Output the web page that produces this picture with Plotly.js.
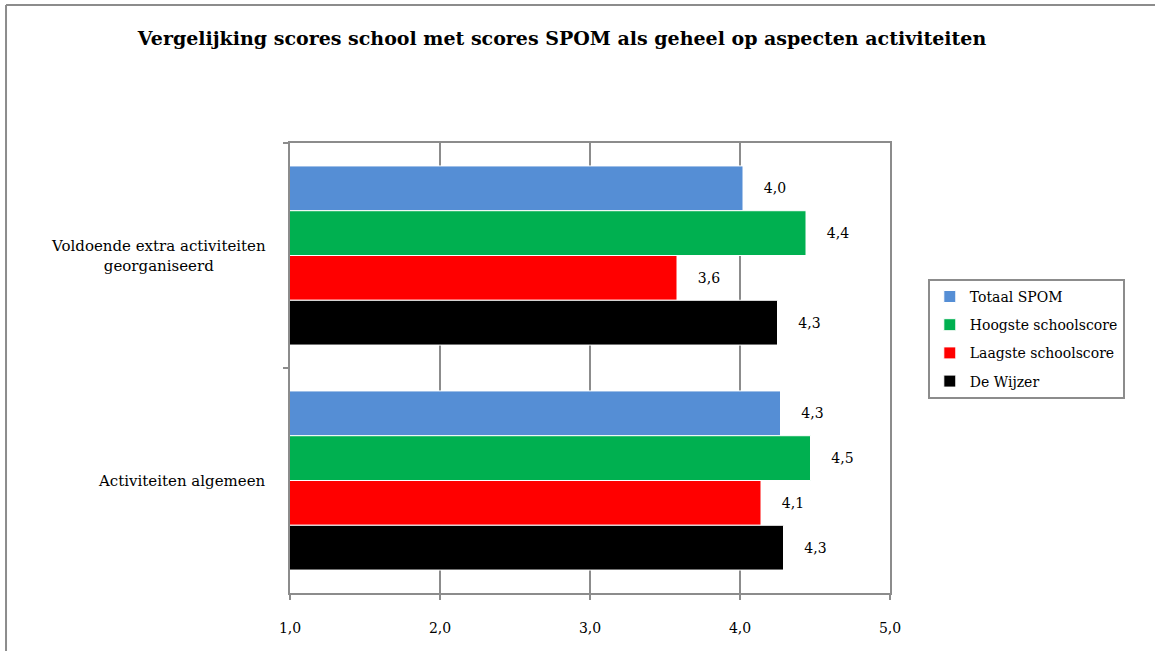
<!DOCTYPE html>
<html>
<head>
<meta charset="utf-8">
<script src="https://cdn.plot.ly/plotly-3.0.1.min.js"></script>
<style>
html,body{margin:0;padding:0;background:#fff;}
#chart{width:1155px;height:651px;}
</style>
</head>
<body>
<div id="chart"></div>
<script>
var categories = ["Voldoende extra activiteiten georganiseerd", "Activiteiten algemeen"];
var categoryLabels = ["Voldoende extra activiteiten<br>georganiseerd", "Activiteiten algemeen"];
var seriesNames = ["Totaal SPOM", "Hoogste schoolscore", "Laagste schoolscore", "De Wijzer"];
var totaalSPOM = [4.02, 4.27];
var hoogste = [4.44, 4.47];
var laagste = [3.58, 4.14];
var deWijzer = [4.25, 4.29];
var seriesValues = [totaalSPOM, hoogste, laagste, deWijzer];
var seriesColors = ["#558ED5", "#00B050", "#FF0000", "#000000"];
var xTicks = [1, 2, 3, 4, 5];

var FONT = "'DejaVu Serif','Liberation Serif',serif";

var traces = seriesNames.map(function(name, i){
  return {
    type: 'bar',
    orientation: 'h',
    name: name,
    y: categories,
    x: seriesValues[i],
    base: 0,
    marker: {color: seriesColors[i], line: {color: '#ffffff', width: 1}},
    texttemplate: '    %{x:.1f}',
    textposition: 'outside',
    cliponaxis: false,
    textfont: {family: FONT, size: 14, color: '#000'},
    legendgroup: 'g' + i,
    hoverinfo: 'x+name'
  };
});

var annotations = categories.map(function(c, i){
  return {
    xref: 'paper', yref: 'y', x: -0.036, y: c,
    text: categoryLabels[i], showarrow: false,
    xanchor: 'right', yanchor: 'middle', align: 'center',
    font: {family: FONT, size: 15, color: '#000'}
  };
});

var layout = {
  width: 1155, height: 651,
  margin: {l: 290, r: 265, t: 143, b: 58},
  paper_bgcolor: '#fff', plot_bgcolor: '#fff',
  separators: ',.',
  font: {family: FONT, size: 14, color: '#000'},
  title: {
    text: '<b>Vergelijking scores school met scores SPOM als geheel op aspecten activiteiten</b>',
    x: 0.4866, xanchor: 'center', y: 0.9416, yanchor: 'middle',
    font: {family: FONT, size: 19, color: '#000'}
  },
  barmode: 'group',
  bargap: 0.204,
  bargroupgap: 0,
  xaxis: {
    range: [1, 5],
    tickvals: xTicks,
    tickformat: '.1f',
    showgrid: true, gridcolor: '#8c8c8c', gridwidth: 2,
    showline: true, linecolor: '#8c8c8c', linewidth: 2, mirror: true,
    ticks: 'outside', ticklen: 5, tickcolor: '#8c8c8c', tickwidth: 2,
    ticklabelstandoff: 16,
    tickfont: {family: FONT, size: 14, color: '#000'},
    zeroline: false, fixedrange: true
  },
  yaxis: {
    type: 'category',
    categoryorder: 'array', categoryarray: categories,
    autorange: 'reversed',
    showticklabels: false,
    showline: true, linecolor: '#8c8c8c', linewidth: 2, mirror: true,
    ticks: 'outside', ticklen: 5, tickcolor: '#8c8c8c', tickwidth: 2,
    tickson: 'boundaries',
    showgrid: false, zeroline: false, fixedrange: true
  },
  legend: {
    x: 1.063, xanchor: 'left', y: 0.698, yanchor: 'top',
    bordercolor: '#8c8c8c', borderwidth: 2, bgcolor: '#fff',
    font: {family: FONT, size: 14, color: '#000'},
    traceorder: 'grouped', tracegroupgap: 7,
    itemwidth: 30,
    itemclick: false, itemdoubleclick: false
  },
  annotations: annotations,
  shapes: [
    {type: 'line', xref: 'paper', yref: 'paper', x0: -0.4733, x1: 1.45, y0: 1.3067, y1: 1.3067, line: {color: '#8c8c8c', width: 2}},
    {type: 'line', xref: 'paper', yref: 'paper', x0: -0.4733, x1: -0.4733, y0: 1.3067, y1: -0.14, line: {color: '#8c8c8c', width: 2}}
  ],
  showlegend: true
};

Plotly.newPlot('chart', traces, layout, {displayModeBar: false, staticPlot: false});
</script>
</body>
</html>
